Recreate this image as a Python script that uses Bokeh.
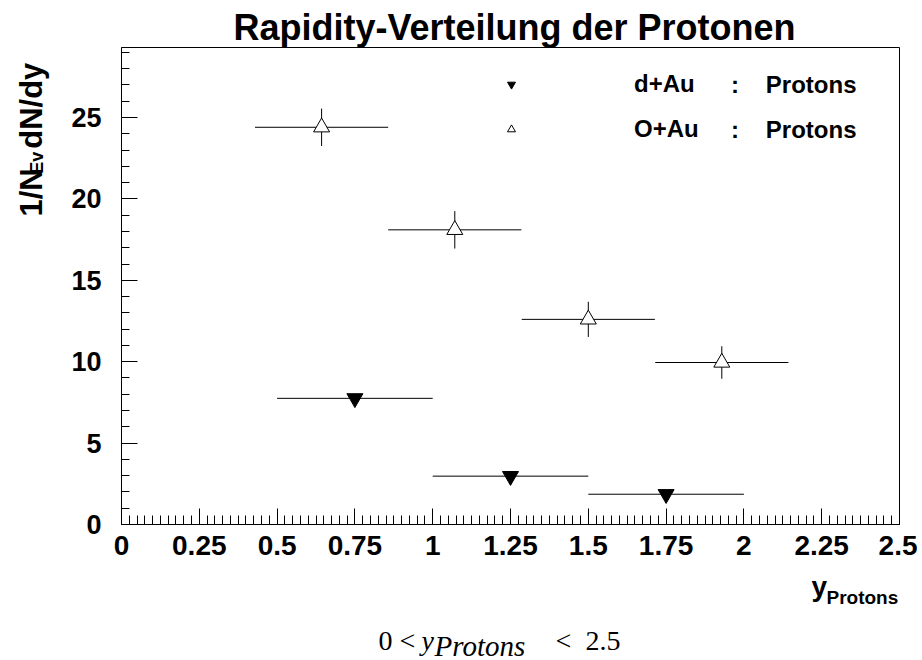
import math
import numpy as np
from bokeh.plotting import figure
from bokeh.layouts import row, column
from bokeh.models import Range1d, FixedTicker, Label, Title, Legend, LegendItem
from bokeh.core.properties import value
from bokeh.embed import file_html
from bokeh.resources import INLINE

# ---------------- data ----------------
dau_y = [0.75, 1.25, 1.75]            # bin centres (rapidity)
dau_halfwidth = [0.25, 0.25, 0.25]    # half bin width
dau_dndy = [7.75, 2.97, 1.86]         # 1/N_Ev dN/dy

oau_y = [0.643, 1.071, 1.5, 1.929]
oau_halfwidth = [0.214, 0.214, 0.214, 0.214]
oau_dndy = [24.4, 18.1, 12.6, 9.95]
oau_err = [1.15, 1.15, 1.08, 1.0]

x_ticks = [0, 0.25, 0.5, 0.75, 1, 1.25, 1.5, 1.75, 2, 2.25, 2.5]
x_tick_labels = ["0", "0.25", "0.5", "0.75", "1", "1.25", "1.5", "1.75", "2", "2.25", "2.5"]
y_ticks = [0, 5, 10, 15, 20, 25]
y_tick_labels = ["0", "5", "10", "15", "20", "25"]

X0, X1 = 0.0, 2.5
Y0, Y1 = 0.0, 29.3

# page layout (pixels)
TOTAL_W, TOTAL_H = 922, 660
LEFT_W = 60          # strip holding the y-axis title
TOP_H = 570          # height of the main row
MAIN_W = 857         # width of the main figure
FL, FR, FT, FB = 121, 901, 47, 524   # frame edges on the page
SHIFT = 10           # observed downward offset of the text strips


def px_x(px):
    return X0 + (px - FL) / (FR - FL) * (X1 - X0)


def px_y(py):
    return Y0 + (FB - py) / (FB - FT) * (Y1 - Y0)


SANS = "Liberation Sans"
SERIF = "Liberation Serif"

p = figure(width=MAIN_W, height=TOP_H, output_backend="svg", toolbar_location=None,
           x_range=Range1d(X0, X1), y_range=Range1d(Y0, Y1),
           min_border_left=FL - LEFT_W, min_border_right=LEFT_W + MAIN_W - FR,
           min_border_top=FT, min_border_bottom=TOP_H - FB)
p.background_fill_color = "white"
p.border_fill_color = "white"
p.outline_line_color = "black"
p.outline_line_width = 1
p.xgrid.visible = False
p.ygrid.visible = False

# ticks
x_minor = [round(v, 4) for v in np.arange(0, 2.5001, 0.025)]
y_minor = list(range(0, 30))
p.xaxis.ticker = FixedTicker(ticks=x_ticks, minor_ticks=x_minor)
p.yaxis.ticker = FixedTicker(ticks=y_ticks, minor_ticks=y_minor)
p.xaxis.major_label_overrides = {float(t): l for t, l in zip(x_ticks, x_tick_labels)}
p.yaxis.major_label_overrides = {float(t): l for t, l in zip(y_ticks, y_tick_labels)}

for ax in (p.xaxis, p.yaxis):
    ax.axis_label = None
    ax.axis_line_color = "black"
    ax.major_tick_line_color = "black"
    ax.minor_tick_line_color = "black"
    ax.major_tick_out = 0
    ax.minor_tick_out = 0
    ax.major_tick_in = 16
    ax.major_label_text_font = SANS
    ax.major_label_text_font_style = "bold"
    ax.major_label_text_color = "black"
p.xaxis.major_label_text_font_size = "28px"
p.yaxis.major_label_text_font_size = "27px"
p.xaxis.minor_tick_in = 9
p.yaxis.minor_tick_in = 8
p.xaxis.major_label_standoff = 11
p.yaxis.major_label_standoff = 20

# title
p.title = Title(text="Rapidity-Verteilung der Protonen", align="left",
                text_font=SANS, text_font_style="bold", text_font_size="36px",
                text_color="black", standoff=0, offset=112)

# blank strip on the right so the frame ends where the reference frame ends
p.add_layout(Title(text="\u00a0", text_font_size="14px", standoff=0), "right")

# ---------------- data marks ----------------
dx = np.array(dau_y)
dw = np.array(dau_halfwidth)
dv = np.array(dau_dndy)
ox = np.array(oau_y)
ow = np.array(oau_halfwidth)
ov = np.array(oau_dndy)
oe = np.array(oau_err)

p.segment(x0=dx - dw, x1=dx + dw, y0=dv, y1=dv, line_color="black", line_width=1)
p.segment(x0=ox - ow, x1=ox + ow, y0=ov, y1=ov, line_color="black", line_width=1)
p.segment(x0=ox, x1=ox, y0=ov - oe, y1=ov + oe, line_color="black", line_width=1)

r_dau = p.scatter(dx, dv, marker="inverted_triangle", size=16,
                  fill_color="black", line_color="black")
r_oau = p.scatter(ox, ov, marker="triangle", size=16,
                  fill_color="white", line_color="black", line_width=1)

# ---------------- legend ----------------
legend = Legend(items=[LegendItem(label="d+Au", renderers=[r_dau]),
                       LegendItem(label="O+Au", renderers=[r_oau])],
                location=(380, 381), orientation="vertical",
                glyph_width=20, glyph_height=20, label_height=28,
                label_standoff=113, spacing=17, padding=0, margin=0,
                border_line_alpha=0, background_fill_alpha=0,
                label_text_font=SANS, label_text_font_style="bold",
                label_text_font_size="24px", label_text_color="black")
p.add_layout(legend)

for py in (84, 129):
    p.add_layout(Label(x=px_x(732), y=px_y(py), text=":", text_font=SANS,
                       text_font_style="bold", text_font_size="24px", text_color="black",
                       text_baseline="middle", text_align="left"))
    p.add_layout(Label(x=px_x(767), y=px_y(py), text="Protons", text_font=SANS,
                       text_font_style="bold", text_font_size="24px", text_color="black",
                       text_baseline="middle", text_align="left"))


# ---------------- text strips (outside the plot frame) ----------------
def text_fig(w, h):
    f = figure(width=w, height=h, output_backend="svg", toolbar_location=None,
               x_range=Range1d(0, w), y_range=Range1d(0, h),
               x_axis_type=None, y_axis_type=None, min_border=0)
    f.outline_line_color = None
    f.background_fill_color = "white"
    f.border_fill_color = "white"
    f.grid.visible = False
    return f


# y-axis title, rotated (page coords: x, y from top)
yfig = text_fig(LEFT_W, TOP_H)
ang = math.pi / 2
for txt, px, py, fs in [("1/N", 31, 212, "31px"), ("Ev", 36, 161, "18px"), ("dN/dy", 31, 131, "31px")]:
    yfig.text(x=[px], y=[TOP_H - (py - SHIFT)], text=[txt], angle=ang, text_font=value(SANS),
              text_font_style="bold", text_font_size=fs, text_color="black",
              text_align="left", text_baseline="alphabetic")

# x-axis title and range caption
CAP_H = TOTAL_H - TOP_H
cfig = text_fig(TOTAL_W, CAP_H)
cfig.text(x=[811], y=[TOTAL_H - (596 - SHIFT)], text=["y"], text_font=value(SANS),
          text_font_style="bold", text_font_size="28px", text_color="black",
          text_align="left", text_baseline="alphabetic")
cfig.text(x=[826], y=[TOTAL_H - (607 - SHIFT)], text=["Protons"], text_font=value(SANS),
          text_font_style="bold", text_font_size="19px", text_color="black",
          text_align="left", text_baseline="alphabetic")

cap = [("0", 378, 650, "normal", "28px"),
       ("<", 399, 650, "normal", "28px"),
       ("y", 421, 650, "italic", "28px"),
       ("Protons", 434, 655, "italic", "29px"),
       ("<", 555, 650, "normal", "28px"),
       ("2.5", 585, 650, "normal", "28px")]
for txt, px, py, style, fs in cap:
    cfig.text(x=[px], y=[TOTAL_H - (py - SHIFT)], text=[txt], text_font=value(SERIF),
              text_font_style=style, text_font_size=fs, text_color="black",
              text_align="left", text_baseline="alphabetic")

root = column(row(yfig, p, spacing=0), cfig, spacing=0)

open("out.html", "w").write(file_html(root, INLINE))
